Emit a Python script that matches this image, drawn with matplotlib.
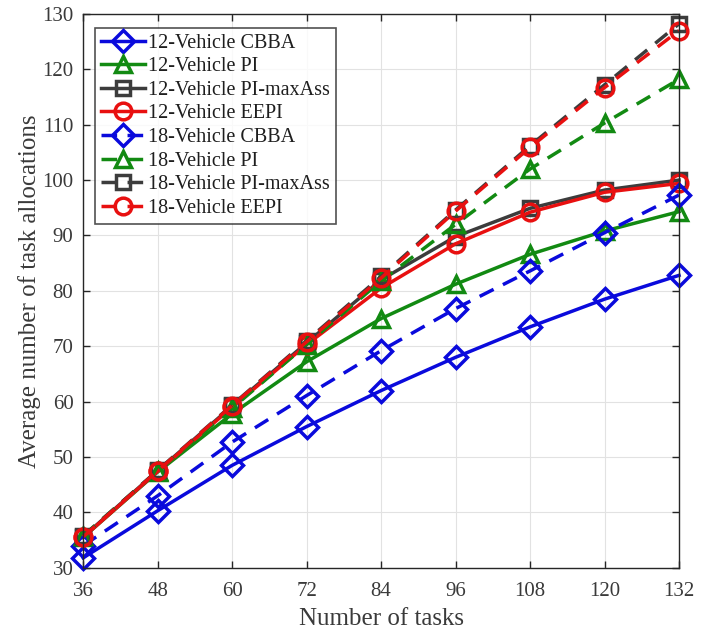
import matplotlib.pyplot as plt

plt.rcParams['font.family'] = ['Liberation Serif', 'DejaVu Serif']

tasks = [36, 48, 60, 72, 84, 96, 108, 120, 132]

cbba_12 = [31.8, 40.3, 48.5, 55.5, 62.0, 68.0, 73.5, 78.5, 82.8]
pi_12 = [35.5, 47.3, 57.8, 67.2, 75.0, 81.2, 86.6, 90.8, 94.3]
maxass_12 = [35.6, 47.5, 59.2, 70.6, 82.0, 89.8, 94.9, 98.2, 100.0]
eepi_12 = [35.5, 47.4, 59.0, 70.3, 80.5, 88.5, 94.2, 97.8, 99.4]

cbba_18 = [34.0, 43.0, 52.7, 61.1, 69.2, 76.8, 83.6, 90.5, 97.3]
pi_18 = [35.8, 47.5, 58.8, 70.3, 81.8, 92.0, 102.0, 110.3, 118.2]
maxass_18 = [35.7, 47.6, 59.4, 71.0, 82.6, 94.6, 106.2, 117.2, 128.2]
eepi_18 = [35.6, 47.5, 59.3, 70.8, 82.3, 94.4, 105.9, 116.7, 127.0]

blue = '#0a0adc'
green = '#128a12'
gray = '#3c3c3c'
red = '#e81010'
text_col = '#3a3a3a'

series = [
    ('12-Vehicle CBBA', cbba_12, blue, 'D', '-'),
    ('12-Vehicle PI', pi_12, green, '^', '-'),
    ('12-Vehicle PI-maxAss', maxass_12, gray, 's', '-'),
    ('12-Vehicle EEPI', eepi_12, red, 'o', '-'),
    ('18-Vehicle CBBA', cbba_18, blue, 'D', '--'),
    ('18-Vehicle PI', pi_18, green, '^', '--'),
    ('18-Vehicle PI-maxAss', maxass_18, gray, 's', '--'),
    ('18-Vehicle EEPI', eepi_18, red, 'o', '--'),
]
sizes = {'D': 11, '^': 12, 's': 10, 'o': 12}

fig = plt.figure(figsize=(7.11, 6.33), dpi=100)
ax = fig.add_axes([0.117, 0.103, 0.838, 0.875])

for label, vals, color, marker, ls in series:
    ax.plot(tasks, vals, color=color, linestyle=ls, linewidth=2.5,
            marker=marker, markersize=sizes[marker], markerfacecolor='none',
            markeredgewidth=2.5, dashes=(4.5, 3) if ls == '--' else (None, None),
            label=label, clip_on=False)

ax.set_xlim(36, 132)
ax.set_ylim(30, 130)
ax.set_xticks(tasks)
ax.set_yticks(range(30, 131, 10))
ax.grid(True, color='#e2e2e2', linewidth=0.8)
ax.tick_params(direction='in', top=True, right=True, labelsize=15,
               length=5, width=1, colors='#262626', labelcolor=text_col)
ax.tick_params(axis='x', pad=10)
ax.tick_params(axis='y', pad=7)
for s in ax.spines.values():
    s.set_color('#262626')
    s.set_linewidth(1.0)
ax.set_xlabel('Number of tasks', fontsize=18, labelpad=5, color=text_col)
ax.set_ylabel('Average number of task allocations', fontsize=18, labelpad=1,
              color=text_col)

leg = ax.legend(loc='upper left', bbox_to_anchor=(0.02, 0.975), fontsize=14.5,
                frameon=True, fancybox=False, borderpad=0.3, labelspacing=0.22,
                handlelength=2.2, handletextpad=0.15, borderaxespad=0.0)
leg.get_frame().set_edgecolor('#262626')
leg.get_frame().set_linewidth(1.2)
for t in leg.get_texts():
    t.set_color('#1e1e1e')

fig.savefig('out.png', dpi=100)
